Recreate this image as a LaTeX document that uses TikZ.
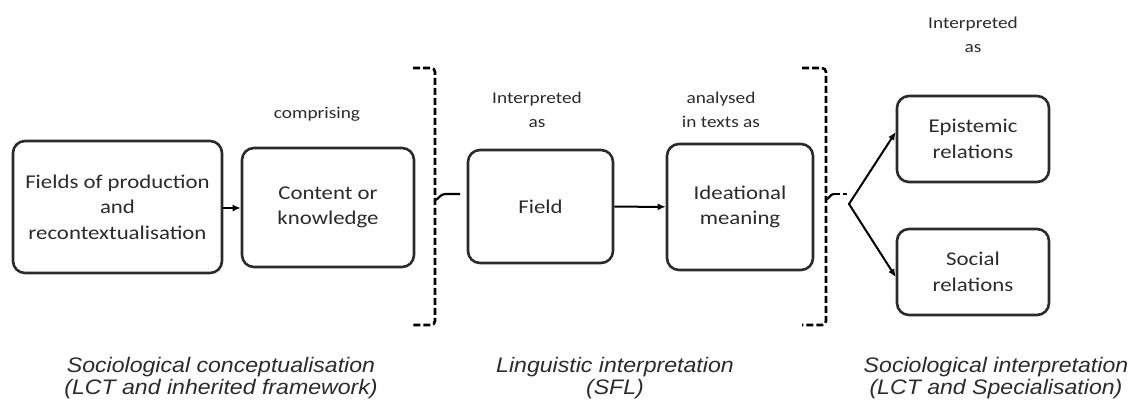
\documentclass[tikz,border=0pt]{standalone}
\usepackage{fontspec}
\setmainfont{Carlito}
\newfontfamily\capfont{Liberation Sans}
\usetikzlibrary{arrows.meta,calc}
\definecolor{ink}{HTML}{2B2B2B}
% text set a little wider than the font's own proportions
\newcommand\wide[1]{\scalebox{1.17}[1]{#1}}
\newcommand\capwide[1]{\scalebox{1.1}[1]{#1}}

\begin{document}
\begin{tikzpicture}[x=1pt,y=-1pt,
  box/.style={draw=ink, line width=2.6pt, rounded corners=12pt, inner sep=0pt,
    align=center, text=ink, font=\fontsize{19.5}{25.5}\selectfont},
  lbl/.style={text=ink, align=center, font=\fontsize{16.5}{24}\selectfont},
  caption/.style={text=ink, align=center, font=\capfont\itshape\fontsize{21}{22}\selectfont},
  arr/.style={-{Latex[length=8pt,width=7pt]}, line width=2pt, draw=black},
  brk/.style={draw=black, line width=2.6pt, dash pattern=on 7pt off 3pt, rounded corners=4pt},
  curl/.style={draw=black, line width=2.2pt}]
\useasboundingbox[fill=white] (0,0) rectangle (1132,405);

% boxes
\node[box, minimum width=209pt, minimum height=132pt] (prod) at (117.5,207)
  {\wide{Fields of production}\\\wide{and}\\\wide{recontextualisation}};
\node[box, minimum width=172pt, minimum height=119pt] (cont) at (328,207.5)
  {\wide{Content or}\\\wide{knowledge}};
\node[box, minimum width=145pt, minimum height=113pt] (field) at (540.5,206.5)
  {\wide{Field}};
\node[box, minimum width=146pt, minimum height=126pt] (idea) at (740,207)
  {\wide{Ideational}\\\wide{meaning}};
\node[box, minimum width=152pt, minimum height=86pt] (epi) at (973,139)
  {\wide{Epistemic}\\\wide{relations}};
\node[box, minimum width=152pt, minimum height=86pt] (soc) at (973,272)
  {\wide{Social}\\\wide{relations}};

% labels on the links
\node[lbl] (lcomp) at (317,114) {\wide{comprising}};
\node[lbl] (linterp) at (537,110) {\wide{Interpreted}\\\wide{as}};
\node[lbl] (lanal) at (721,110) {\wide{analysed}\\\wide{in texts as}};
\node[lbl] (linterp2) at (973,35) {\wide{Interpreted}\\\wide{as}};

% dashed brackets
\coordinate (b1top) at (413,68);
\coordinate (b1bot) at (413,325);
\draw[brk] (b1top) -- (435,68) -- (435,325) -- (b1bot);
\coordinate (b2top) at (802,68);
\coordinate (b2bot) at (802,325);
\draw[brk] (b2top) -- (826,68) -- (826,325) -- (b2bot);

% bracket tips
\coordinate (t1) at (435,200);
\coordinate (t1end) at (460,194);
\draw[curl] (t1) .. controls (438,200) and (440,194) .. (445,194) -- (t1end);
\coordinate (t2) at (827,199);
\coordinate (fork) at (849,204);
\draw[curl] (t2) .. controls (829,199) and (830,194) .. (834,194);
\draw[brk, line width=2.4pt, dash pattern=on 6pt off 3pt] (834,194) -- (847,194);

% arrows
\draw[arr] (prod.east |- 0,208) -- (cont.west |- 0,208);
\draw[arr] (field) -- (idea);
\draw[arr, line cap=round] (fork) -- ($(epi.west)+(0,-7)$);
\draw[arr, line cap=round] (fork) -- ($(soc.west)+(0,5)$);

% captions
\node[caption] (c1) at (221,378)
  {\capwide{Sociological conceptualisation}\\\capwide{(LCT and inherited framework)}};
\node[caption] (c2) at (615,378)
  {\capwide{Linguistic interpretation}\\\capwide{(SFL)}};
\node[caption] (c3) at (996,378)
  {\capwide{Sociological interpretation}\\\capwide{(LCT and Specialisation)}};
\end{tikzpicture}
\end{document}
